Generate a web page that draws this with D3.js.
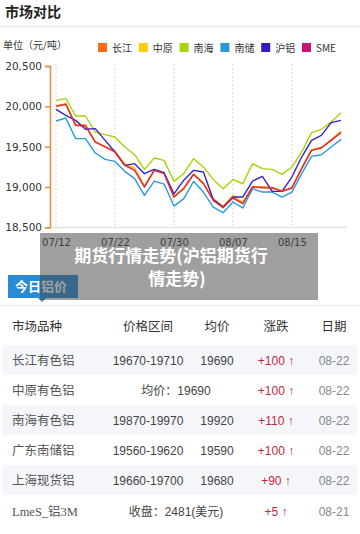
<!DOCTYPE html>
<html>
<head>
<meta charset="utf-8">
<script src="https://cdn.jsdelivr.net/npm/d3@7"></script>
<style>
  body { margin: 0; background: #fff; }
  svg { display: block; }
</style>
</head>
<body>
<div id="chart"></div>
<script>
// dates (trading days) and tick labels
var dates = ["07/12","07/15","07/16","07/17","07/18","07/19","07/22","07/23","07/24","07/25","07/26",
  "07/29","07/30","07/31","08/01","08/02","08/05","08/06","08/07","08/08","08/09",
  "08/12","08/13","08/14","08/15","08/16","08/19","08/20","08/21","08/22"];
var tickDates = ["07/12","07/22","07/30","08/07","08/15"];
var yTicks = [18500, 19000, 19500, 20000, 20500];

// series
var seriesNames = ["长江","中原","南海","南储","沪铝","SME"];
var legendColors = ["#ff6a13","#ffcc00","#a5d40a","#2a97d6","#2f1cc4","#cc1276"];
var lineColors   = ["#ff6a13","#ffc800","#a5d40a","#2a9ad8","#3a22c8","#e0263e"];

var changjiang = [20005,20030,19770,19770,19560,19500,19440,19280,19230,19010,19210,19170,18880,
  18990,19160,19050,18850,18760,18880,18800,19005,19000,18995,18950,18990,19235,19460,19490,19585,19690];
var zhongyuan = [20000,20025,19765,19760,19555,19500,19440,19285,19235,19005,19215,19175,18880,
  18985,19160,19045,18855,18760,18895,18810,19000,18995,18990,18955,18985,19230,19455,19485,19580,19690];
var nanhai = [20074,20095,19880,19880,19681,19649,19620,19496,19400,19218,19359,19330,19070,
  19165,19351,19247,19094,18979,19094,19040,19289,19227,19218,19156,19247,19434,19674,19715,19806,19920];
var nanchu = [19818,19855,19599,19599,19421,19342,19317,19194,19103,18896,19073,19036,18763,
  18855,19070,18937,18751,18681,18813,18739,18979,18937,18937,18875,18937,19165,19380,19400,19496,19590];
var hulv = [19963,19888,19826,19715,19723,19578,19434,19268,19289,19165,19218,19177,18915,
  19082,19206,19185,18846,18751,18875,18875,19073,19131,18945,18945,19123,19371,19578,19640,19798,19826];
var sme = [20000,20025,19764,19756,19557,19496,19434,19268,19206,18999,19206,19165,18875,
  18979,19156,19040,18834,18743,18863,18793,18999,18991,18987,18945,18987,19227,19454,19483,19578,19674];
var allSeries = [changjiang, zhongyuan, nanhai, nanchu, hulv, sme];

// price table
var markets = ["长江有色铝","中原有色铝","南海有色铝","广东南储铝","上海现货铝","LmeS_铝3M"];
var ranges  = ["19670-19710", null, "19870-19970", "19560-19620", "19660-19700", null];
var avgs    = ["19690", null, "19920", "19590", "19680", null];
var merged  = [null, "均价：19690", null, null, null, "收盘：2481(美元)"];
var changes = ["+100","+100","+110","+100","+90","+5"];
var rowDates = ["08-22","08-22","08-22","08-22","08-22","08-21"];
var headers = ["市场品种","价格区间","均价","涨跌","日期"];

var W = 360, H = 534;
var cjk = "'Noto Sans CJK SC', sans-serif";
var svg = d3.select("#chart").append("svg").attr("width", W).attr("height", H);

// title
svg.append("text").attr("x", 5).attr("y", 17).text("市场对比")
  .style("font-family", cjk).style("font-size", "14px").style("font-weight", "bold").attr("fill", "#222");
svg.append("rect").attr("x", 0).attr("y", 25).attr("width", W).attr("height", 3).attr("fill", "#f3f3f3");

svg.append("text").attr("x", 3).attr("y", 49).text("单位（元/吨）")
  .style("font-family", cjk).style("font-size", "10px").attr("fill", "#333");

// legend
var legend = svg.selectAll(".legend").data(seriesNames).enter().append("g")
  .attr("transform", function(d, i) { return "translate(" + (98 + i * 40.8) + ",43)"; });
legend.append("rect").attr("width", 9).attr("height", 9)
  .attr("fill", function(d, i) { return legendColors[i]; });
legend.append("text").attr("x", 14).attr("y", 8.5).text(function(d) { return d; })
  .style("font-family", cjk).style("font-size", "10px").attr("fill", "#333");

// scales
var x = d3.scalePoint().domain(dates).range([56, 341]);
var y = d3.scaleLinear().domain([18500, 20500]).range([227.3, 66]);

// grid
svg.selectAll(".vgrid").data(tickDates).enter().append("line")
  .attr("x1", function(d) { return x(d); }).attr("x2", function(d) { return x(d); })
  .attr("y1", 64).attr("y2", 227)
  .attr("stroke", "#d8d8d8").attr("stroke-dasharray", "2,2");
svg.append("line").attr("x1", 50).attr("x2", 347).attr("y1", 227.5).attr("y2", 227.5)
  .attr("stroke", "#e2e2e2").attr("stroke-width", 1.5);

// y axis
var yAxis = svg.append("g").attr("transform", "translate(50,0)")
  .call(d3.axisLeft(y).tickValues(yTicks).tickSize(5).tickPadding(3).tickFormat(d3.format(",")));
yAxis.select(".domain").attr("stroke", "#f08a3c").attr("stroke-width", 1.5);
yAxis.selectAll(".tick line").attr("stroke", "#f08a3c").attr("stroke-width", 1.5);
yAxis.selectAll("text").style("font-family", "'DejaVu Sans', sans-serif").style("font-size", "10.5px").attr("fill", "#333");

// x axis labels
var xAxis = svg.append("g").attr("transform", "translate(0,227)")
  .call(d3.axisBottom(x).tickValues(tickDates).tickSize(0).tickPadding(12));
xAxis.select(".domain").remove();
xAxis.selectAll("text").style("font-family", "'DejaVu Sans', sans-serif").style("font-size", "10px").attr("fill", "#333");

// lines
var line = d3.line().x(function(d, i) { return x(dates[i]); }).y(function(d) { return y(d); });
svg.selectAll(".series").data(allSeries).enter().append("path")
  .attr("d", line).attr("fill", "none")
  .attr("stroke", function(d, i) { return lineColors[i]; })
  .attr("stroke-width", 1.4).attr("stroke-linejoin", "round");

// "今日铝价" tab
svg.append("rect").attr("x", 8).attr("y", 275).attr("width", 70).attr("height", 23).attr("fill", "#2a8bd5");
svg.append("path").attr("d", "M38,298 L42,302 L46,298 Z").attr("fill", "#2a8bd5");
svg.append("text").attr("x", 15).attr("y", 291).text("今日铝价")
  .style("font-family", cjk).style("font-size", "13px").style("font-weight", "bold").attr("fill", "#fff");
svg.append("line").attr("x1", 0).attr("x2", W).attr("y1", 305.5).attr("y2", 305.5).attr("stroke", "#ececec");

// overlay caption
svg.append("rect").attr("x", 40).attr("y", 233).attr("width", 278).attr("height", 67)
  .attr("fill", "rgba(70,70,70,0.52)");
svg.append("text").attr("x", 171).attr("y", 262).attr("text-anchor", "middle").text("期货行情走势(沪铝期货行")
  .style("font-family", cjk).style("font-size", "17px").style("font-weight", "bold").attr("fill", "#fff");
svg.append("text").attr("x", 177).attr("y", 285).attr("text-anchor", "middle").text("情走势)")
  .style("font-family", cjk).style("font-size", "17px").style("font-weight", "bold").attr("fill", "#fff");

// table
var colX = [12, 148, 217, 276, 334];
var headerY = 331;
svg.selectAll(".hdr").data(headers).enter().append("text")
  .attr("x", function(d, i) { return colX[i]; }).attr("y", headerY)
  .attr("text-anchor", function(d, i) { return i === 0 ? "start" : "middle"; })
  .text(function(d) { return d; })
  .style("font-family", cjk).style("font-size", "12.5px").attr("fill", "#333");

var rowTop = [345, 375, 405, 435, 465, 496];
var rows = svg.selectAll(".row").data(markets).enter().append("g")
  .attr("transform", function(d, i) { return "translate(0," + rowTop[i] + ")"; });
rows.filter(function(d, i) { return i % 2 === 0; }).append("rect")
  .attr("x", 2).attr("width", 355).attr("height", 30).attr("fill", "#f4f6fa");
var numFont = "'Liberation Sans', 'Noto Sans CJK SC', sans-serif";
rows.append("text").attr("x", colX[0]).attr("y", 19.5).text(function(d) { return d; })
  .style("font-family", function(d, i) { return i === 5 ? "'Liberation Serif', 'Noto Sans CJK SC', serif" : cjk; })
  .style("font-size", "12.5px").attr("fill", "#555");
rows.append("text").attr("x", colX[1]).attr("y", 19.5).attr("text-anchor", "middle")
  .text(function(d, i) { return ranges[i] || ""; })
  .style("font-family", numFont).style("font-size", "12px").attr("fill", "#444");
rows.append("text").attr("x", colX[2]).attr("y", 19.5).attr("text-anchor", "middle")
  .text(function(d, i) { return avgs[i] || ""; })
  .style("font-family", numFont).style("font-size", "12px").attr("fill", "#444");
rows.append("text").attr("x", 176).attr("y", 19.5).attr("text-anchor", "middle")
  .text(function(d, i) { return merged[i] || ""; })
  .style("font-family", numFont).style("font-size", "12px").attr("fill", "#444");
rows.append("text").attr("x", colX[3]).attr("y", 19.5).attr("text-anchor", "middle")
  .text(function(d, i) { return changes[i] + " ↑"; })
  .style("font-family", numFont).style("font-size", "12px").attr("fill", "#c3283c");
rows.append("text").attr("x", colX[4]).attr("y", 19.5).attr("text-anchor", "middle")
  .text(function(d, i) { return rowDates[i]; })
  .style("font-family", numFont).style("font-size", "12px").attr("fill", "#888");
</script>
</body>
</html>
